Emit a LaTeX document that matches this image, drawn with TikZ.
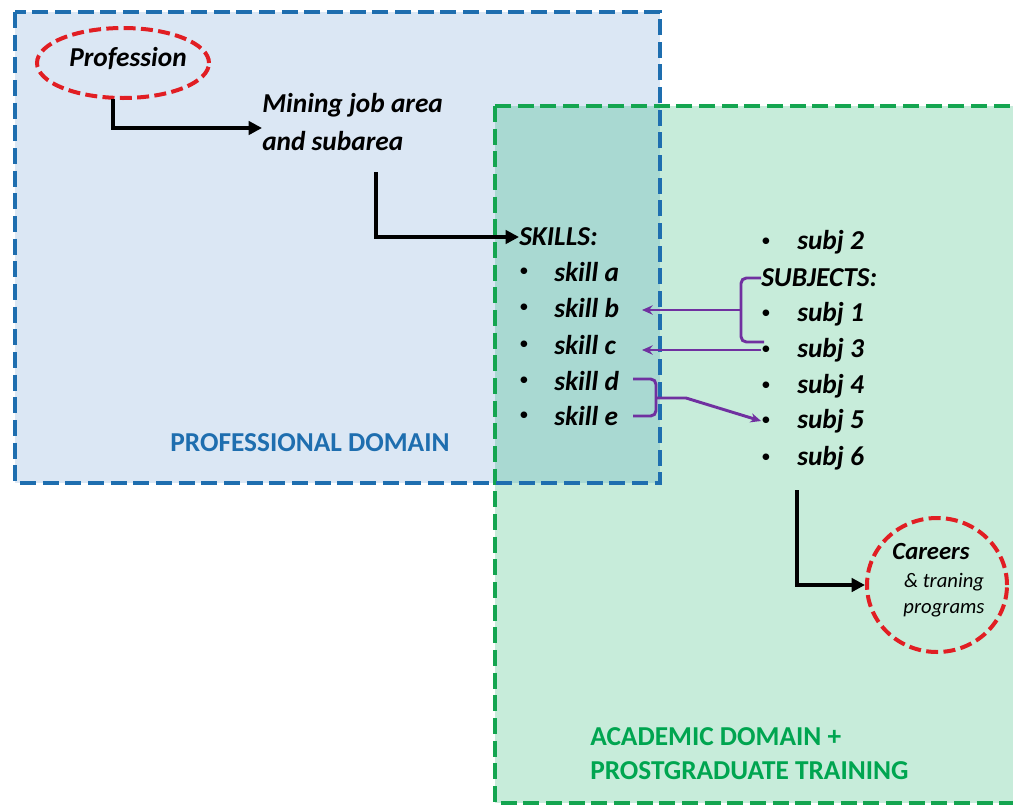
\documentclass[tikz,border=0pt]{standalone}
\usepackage{fontspec}
\setmainfont{Carlito}
\usetikzlibrary{arrows.meta,shapes.geometric}
\definecolor{bfill}{RGB}{219,231,244}
\definecolor{gfill}{RGB}{199,236,218}
\definecolor{ofill}{RGB}{169,217,210}
\definecolor{bline}{RGB}{30,110,175}
\definecolor{gline}{RGB}{20,165,80}
\definecolor{gtext}{RGB}{0,165,80}
\definecolor{rline}{RGB}{225,30,35}
\definecolor{purp}{RGB}{112,48,160}
\tikzset{
  txt/.style={font=\fontsize{20.5}{24}\selectfont\bfseries\itshape, inner sep=0pt, anchor=west},
  bul/.style={font=\fontsize{14}{20}\selectfont, inner sep=0pt},
  flow/.style={line width=2.8pt, -{Triangle[length=10pt,width=10pt]}},
  link/.style={purp, line width=2.2pt, -{Stealth[length=8pt,width=7pt]}},
  brk/.style={purp, line width=2.2pt, rounded corners=4pt},
  dom/.style={line width=3pt, dash pattern=on 12pt off 5pt},
  oval/.style={draw=rline, line width=3pt, dash pattern=on 9pt off 4pt, ellipse},
}
\begin{document}
\begin{tikzpicture}[x=0.75pt,y=-0.75pt]
\clip (0,0) rectangle (1013,807);
\useasboundingbox (0,0) rectangle (1013,807);
% domain fills
\fill[bfill] (15,12) rectangle (660,483);
\fill[gfill] (495,106) rectangle (1030,803);
\fill[ofill] (495,106) rectangle (660,483);
% domain borders
\draw[dom, draw=gline] (495,106) rectangle (1030,803);
\draw[dom, draw=bline] (15,12) rectangle (660,483);

% Profession
\node[oval, minimum width=172pt*0.75, minimum height=70pt*0.75, inner sep=0pt] (prof) at (123,63) {};
\node[txt, anchor=center] (proft) at (128,58) {Profession};
\node[txt] (mine1) at (262,105) {Mining job area};
\node[txt] (mine2) at (262,141) {and subarea};
\coordinate (m2s) at (376,172);

% skills
\node[txt] (skills) at (519,237) {SKILLS:};
\foreach \i/\t/\y in {a/skill a/272, b/skill b/308, c/skill c/345, d/skill d/381, e/skill e/416}{
  \node[bul] (bs\i) at (524,\y) {\textbullet};
  \node[txt] (sk\i) at (554,\y) {\t};
}
% subjects
\node[bul] (bu2) at (766,242) {\textbullet};
\node[txt] (su2) at (797,242) {subj 2};
\node[txt] (subjects) at (761,278) {SUBJECTS:};
\foreach \i/\t/\y in {1/subj 1/314, 3/subj 3/350, 4/subj 4/386, 5/subj 5/421, 6/subj 6/458}{
  \node[bul] (bu\i) at (766,\y) {\textbullet};
  \node[txt] (su\i) at (797,\y) {\t};
}

% careers
\node[oval, minimum width=140pt*0.75, minimum height=134pt*0.75, inner sep=0pt] (car) at (937,585) {};
\node[font=\fontsize{18.5}{22}\selectfont\bfseries\itshape, inner sep=0pt] (cart) at (931,551) {Careers};
\node[font=\fontsize{15.5}{18}\selectfont\itshape, inner sep=0pt] (car2) at (944,582) {\& traning};
\node[font=\fontsize{15.5}{18}\selectfont\itshape, inner sep=0pt] (car3) at (944,610) {programs};

% domain labels
\node[font=\fontsize{20.5}{24}\selectfont\bfseries, text=bline, inner sep=0pt] (pd) at (310,443) {PROFESSIONAL DOMAIN};
\node[font=\fontsize{20.5}{24}\selectfont\bfseries, text=gtext, inner sep=0pt, anchor=west] (ad1) at (590,737) {ACADEMIC DOMAIN +};
\node[font=\fontsize{20.5}{24}\selectfont\bfseries, text=gtext, inner sep=0pt, anchor=west] (ad2) at (590,771) {PROSTGRADUATE TRAINING};

% flow arrows
\coordinate (p0) at (113,99);
\draw[flow] (p0) |- (mine1.west |- 0,128);
\draw[flow] (m2s) |- (skills.west);
\coordinate (s6) at (797,490);
\draw[flow] (s6) |- (car.west);

% purple brace at subjects
\draw[brk] (subjects.west) -- (741,278) -- (741,342) -- (764,342);
\draw[link] (741,310) -- (642,310);
\draw[link] (bu3.west) -- (642,350);
% brace at skills d/e
\draw[brk] (633,379) -- (656,379) -- (656,416) -- (633,416);
\draw[link] (656,398) -- (686,398) -- (bu5.west);
\end{tikzpicture}
\end{document}
